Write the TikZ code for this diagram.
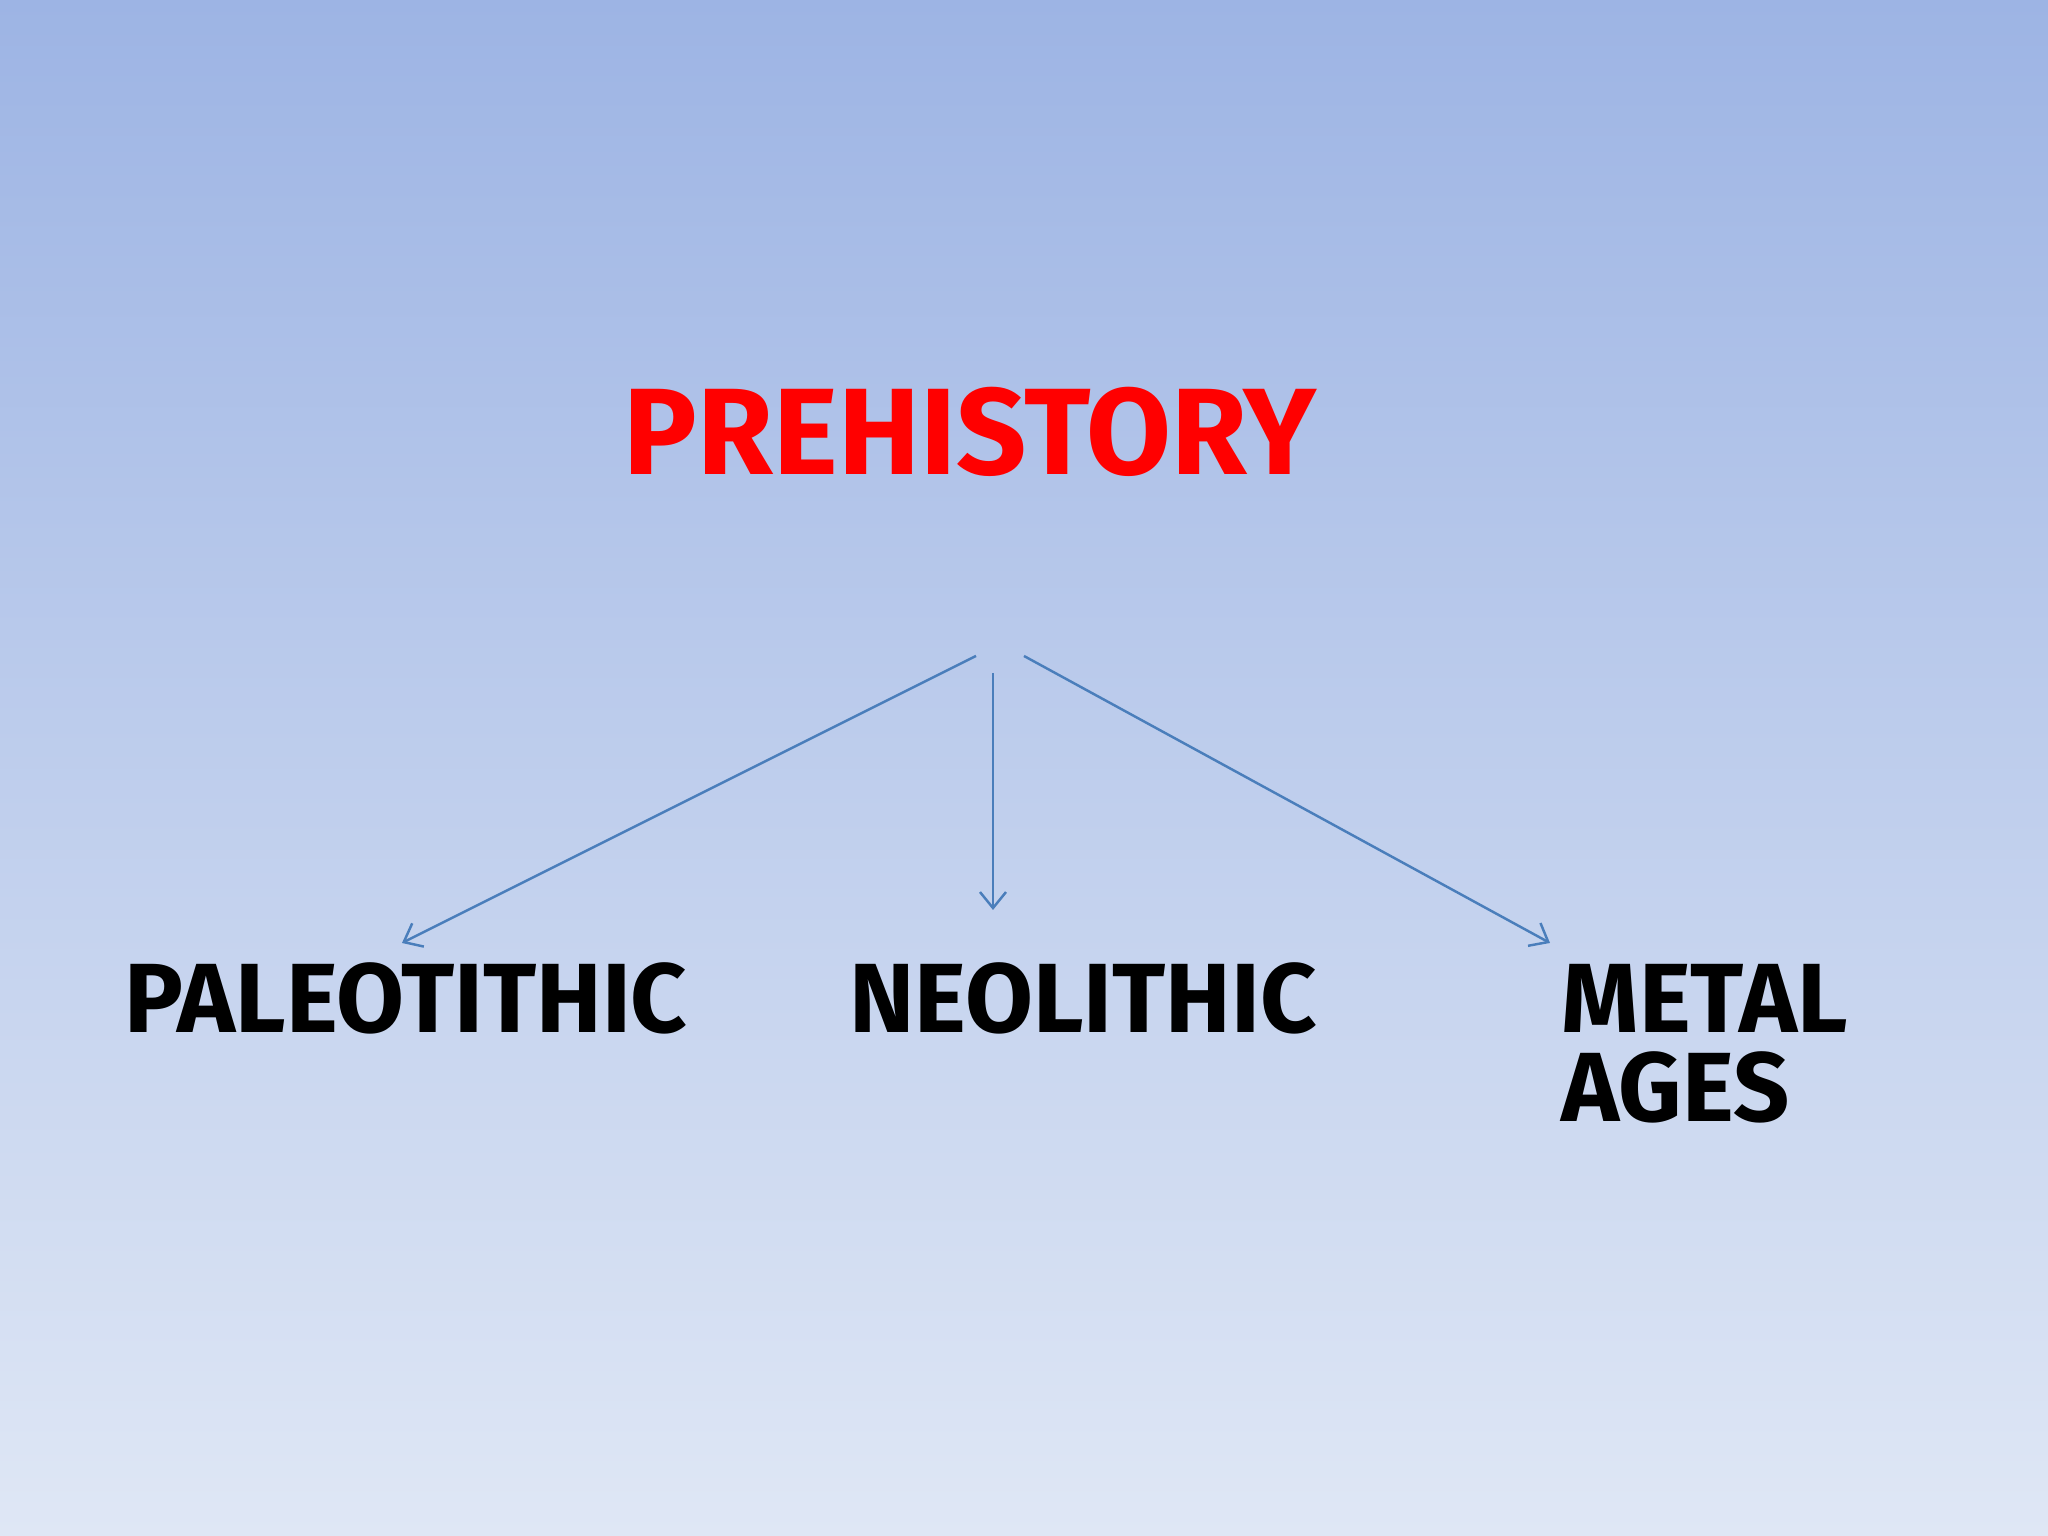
\documentclass[tikz,border=0pt]{standalone}
\usepackage{fontspec}
\setmainfont{Fira Sans}
\usetikzlibrary{positioning}
\usetikzlibrary{arrows.meta}

\definecolor{bgtop}{RGB}{157,180,228}
\definecolor{bgbottom}{RGB}{223,231,245}
\definecolor{arrowblue}{RGB}{74,126,187}

\begin{document}
\begin{tikzpicture}
		\tikzstyle{title}=[font=\fontsize{35}{40}\selectfont\bfseries,text=red,inner sep=0pt]
		\tikzstyle{period}=[font=\fontsize{28}{34}\selectfont\bfseries,text=black,inner sep=0pt]
		\tikzstyle{branch}=[draw=arrowblue,line width=0.7pt,-{Straight Barb[length=1.6mm,width=2.6mm]}]
		
		\shade[top color=bgtop,bottom color=bgbottom] (0,0) rectangle (20.48,15.36);
		\useasboundingbox (0,0) rectangle (20.48,15.36);
		
		\node[title](prehistory) at (9.70,11.04) {PREHISTORY};
		\node[period](paleo) at (4.06,5.38) {PALEOTITHIC};
		\node[period](neo) at (10.83,5.38) {NEOLITHIC};
		\node[period,anchor=north west](metal) at (15.61,5.72) {METAL};
		\node[period,below=0.17cm of metal.south west,anchor=north west](ages) {AGES};
		
		% start and end points of the arrows
		\coordinate (fromleft) at (9.76,8.80);
		\coordinate (frommid) at (9.93,8.63);
		\coordinate (fromright) at (10.24,8.80);
		\coordinate (toleft) at (4.02,5.93);
		\coordinate (tomid) at (9.93,6.26);
		\coordinate (toright) at (15.50,5.93);
		
		\draw[branch] (fromleft) -- (toleft);
		\draw[branch] (frommid) -- (tomid);
		\draw[branch] (fromright) -- (toright);
\end{tikzpicture}
\end{document}
